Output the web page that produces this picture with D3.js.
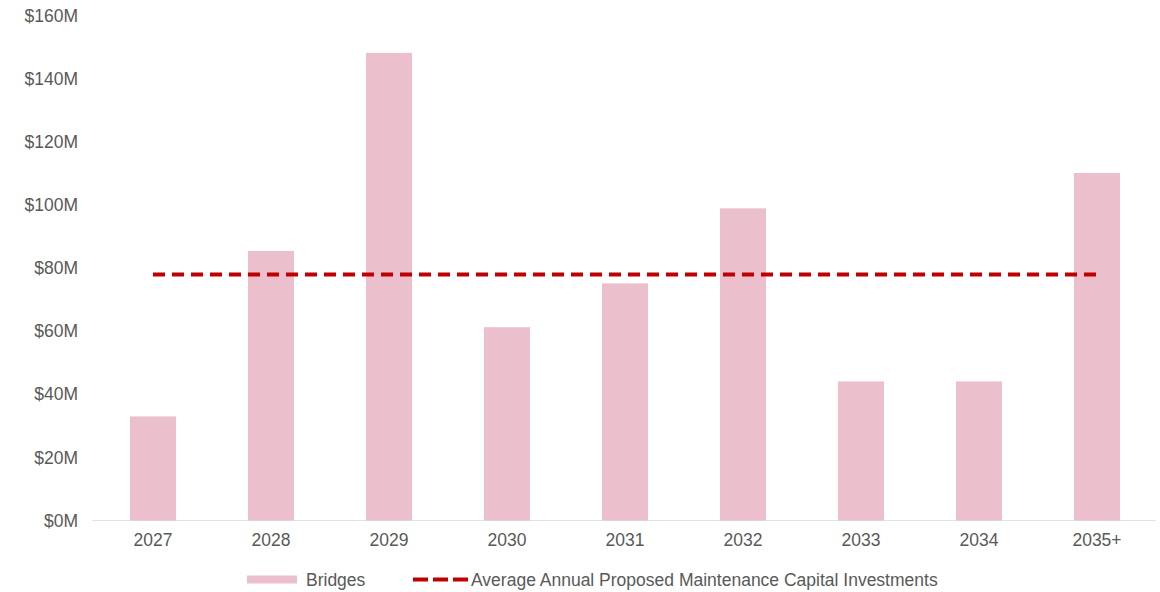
<!DOCTYPE html>
<html>
<head>
<meta charset="utf-8">
<script src="https://cdn.jsdelivr.net/npm/d3@7"></script>
<style>
  html, body { margin: 0; padding: 0; background: #fff; }
  svg { display: block; font-family: "Liberation Sans", Arial, sans-serif; }
</style>
</head>
<body>
<svg id="chart" width="1160" height="592"></svg>
<script>
// Annual bridge capital investment, $M
const years = ["2027", "2028", "2029", "2030", "2031", "2032", "2033", "2034", "2035+"];
const bridges = [33, 85.5, 148.3, 61.3, 75.2, 99, 44.1, 44.1, 110.2];
const averageInvestment = 78;
const yTicks = [0, 20, 40, 60, 80, 100, 120, 140, 160];
const seriesNames = ["Bridges", "Average Annual Proposed Maintenance Capital Investments"];

const barColor = "#ecbfcd";
const lineColor = "#c00000";
const textColor = "#595959";
const fontSize = "17.5px";

const svg = d3.select("#chart");

const x = d3.scaleBand()
  .domain(years)
  .range([94, 1156])
  .paddingInner(0.61)
  .paddingOuter(0.305);

const y = d3.scaleLinear()
  .domain([0, 160])
  .range([520.5, 16]);

// Y axis labels (no line, no ticks)
const yAxis = svg.append("g")
  .attr("transform", "translate(78,0)")
  .call(d3.axisLeft(y).tickValues(yTicks).tickSize(0).tickPadding(0)
    .tickFormat(d => "$" + d + "M"));
yAxis.select(".domain").remove();
yAxis.selectAll("text")
  .attr("fill", textColor)
  .style("font-size", fontSize)
  .style("font-family", "'Liberation Sans', Arial, sans-serif");

// Baseline
svg.append("line")
  .attr("x1", 92).attr("x2", 1156)
  .attr("y1", y(0)).attr("y2", y(0))
  .attr("stroke", "#e3e3e3").attr("stroke-width", 1);

// Bars
svg.append("g").selectAll("rect")
  .data(years.map((yr, i) => ({ yr, v: bridges[i] })))
  .join("rect")
  .attr("x", d => x(d.yr))
  .attr("width", x.bandwidth())
  .attr("y", d => y(d.v))
  .attr("height", d => y(0) - y(d.v))
  .attr("fill", barColor);

// X axis labels
const xAxis = svg.append("g")
  .attr("transform", `translate(0,${y(0)})`)
  .call(d3.axisBottom(x).tickSize(0).tickPadding(13));
xAxis.select(".domain").remove();
xAxis.selectAll("text")
  .attr("fill", textColor)
  .style("font-size", fontSize)
  .style("font-family", "'Liberation Sans', Arial, sans-serif");

// Average line across the bar centres
const avgLine = d3.line()
  .x(d => x(d) + x.bandwidth() / 2)
  .y(() => y(averageInvestment));
svg.append("path")
  .datum([years[0], years[years.length - 1]])
  .attr("d", avgLine)
  .attr("fill", "none")
  .attr("stroke", lineColor)
  .attr("stroke-width", 4)
  .attr("stroke-dasharray", "12 7")
  .attr("stroke-linecap", "butt");

// Legend
const legend = svg.append("g").attr("transform", "translate(0,579.5)");
legend.append("rect")
  .attr("x", 247).attr("y", -4).attr("width", 50).attr("height", 8)
  .attr("fill", barColor);
legend.append("text")
  .attr("x", 306).attr("y", 0).attr("dy", "0.35em")
  .attr("fill", textColor).style("font-size", fontSize)
  .text(seriesNames[0]);
legend.append("line")
  .attr("x1", 413).attr("x2", 468).attr("y1", 0).attr("y2", 0)
  .attr("stroke", lineColor).attr("stroke-width", 4)
  .attr("stroke-dasharray", "15 5");
legend.append("text")
  .attr("x", 471).attr("y", 0).attr("dy", "0.35em")
  .attr("fill", textColor).style("font-size", fontSize)
  .text(seriesNames[1]);
</script>
</body>
</html>
